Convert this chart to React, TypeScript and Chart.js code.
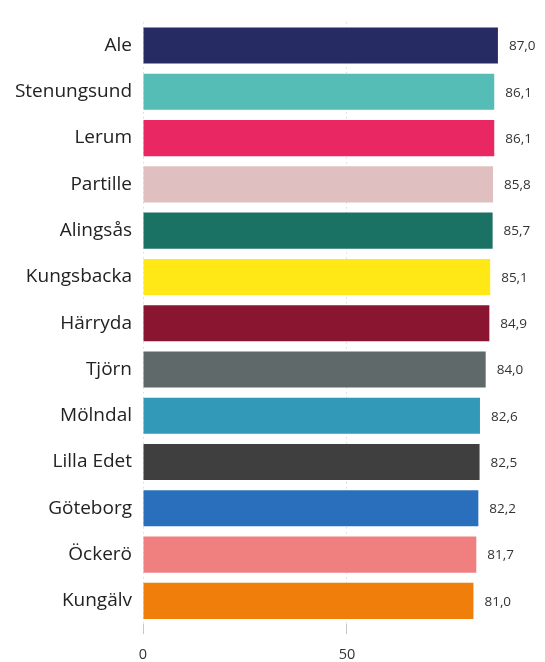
import React, { useEffect, useRef } from "react";
import { Chart, registerables } from "chart.js";

Chart.register(...registerables);

const categories = [
  "Ale", "Stenungsund", "Lerum", "Partille", "Alingsås", "Kungsbacka", "Härryda",
  "Tjörn", "Mölndal", "Lilla Edet", "Göteborg", "Öckerö", "Kungälv",
];
const values = [87.0, 86.1, 86.1, 85.8, 85.7, 85.1, 84.9, 84.0, 82.6, 82.5, 82.2, 81.7, 81.0];
const colors = [
  "#262b63", "#55bdb5", "#e82763", "#e0bfc0", "#1a7264", "#ffe815", "#8a1530",
  "#5f6969", "#3399b9", "#3f3f3f", "#2a6fbb", "#f08080", "#f07e0a",
];
const xTicks = [0, 50];

const FONT = "'Open Sans', sans-serif";

const valueLabels = {
  id: "valueLabels",
  afterDatasetsDraw(chart: any) {
    const ctx = chart.ctx;
    const meta = chart.getDatasetMeta(0);
    ctx.save();
    ctx.font = `13.5px ${FONT}`;
    ctx.fillStyle = "#333";
    ctx.textAlign = "left";
    ctx.textBaseline = "middle";
    meta.data.forEach((bar: any, i: number) => {
      const v = values[i];
      ctx.fillText(v.toFixed(1).replace(".", ","), bar.x + 11, bar.y + 1);
    });
    ctx.restore();
  },
};

export default function App() {
  const ref = useRef<HTMLCanvasElement>(null);
  useEffect(() => {
    document.body.style.margin = "0";
    const chart = new Chart(ref.current!, {
      type: "bar",
      data: {
        labels: categories,
        datasets: [
          {
            data: values,
            backgroundColor: colors,
            borderWidth: 0,
            categoryPercentage: 0.78,
            barPercentage: 1,
          },
        ],
      },
      options: {
        indexAxis: "y",
        animation: false,
        responsive: false,
        maintainAspectRatio: false,
        layout: { padding: { top: 14, right: 43, bottom: 0, left: 0 } },
        plugins: { legend: { display: false }, tooltip: { enabled: false } },
        scales: {
          x: {
            min: 0,
            max: 88,
            afterBuildTicks: (scale: any) => {
              scale.ticks = xTicks.map((v) => ({ value: v }));
            },
            afterFit: (scale: any) => {
              scale.height = 38;
            },
            grid: {
              color: "rgba(0,0,0,0.22)",
              tickLength: 10,
              lineWidth: 1,
            },
            border: { display: false, dash: [1, 4] },
            ticks: {
              font: { size: 14.5, family: FONT },
              color: "#333",
              padding: 12,
            },
          },
          y: {
            grid: { display: false, drawTicks: false, tickLength: 0 },
            border: { display: false },
            afterFit: (scale: any) => {
              scale.width = 143;
            },
            ticks: {
              font: { size: 19, family: FONT },
              color: "#222",
              padding: 11,
            },
          },
        },
      },
      plugins: [valueLabels],
    });
    return () => chart.destroy();
  }, []);
  return (
    <div style={{ width: 545, height: 662 }}>
      <canvas ref={ref} width={545} height={662} />
    </div>
  );
}
